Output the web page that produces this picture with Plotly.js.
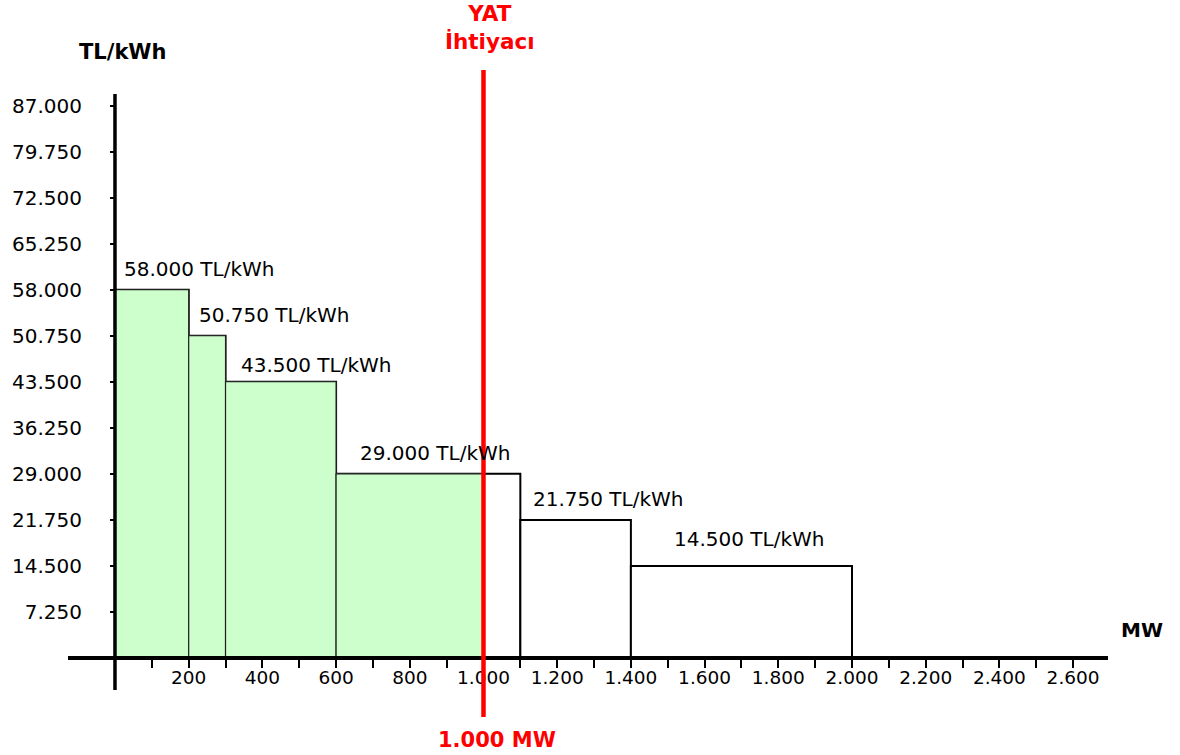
<!DOCTYPE html>
<html>
<head>
<meta charset="utf-8">
<script src="https://cdn.plot.ly/plotly-3.0.1.min.js"></script>
<style>
  html, body { margin: 0; padding: 0; background: #ffffff; }
  #chart { width: 1180px; height: 755px; }
</style>
</head>
<body>
<div id="chart"></div>
<script>
// Merit-order blocks: offered capacity (MW) and price (TL/kWh) of each block
const blockCapacityMW = [200, 100, 300, 500, 300, 600];
const blockPrice = [58000, 50750, 43500, 29000, 21750, 14500];
// Required reserve capacity
const demandMW = 1000;
// Axis ticks
const priceTicks = [7250, 14500, 21750, 29000, 36250, 43500, 50750, 58000, 65250, 72500, 79750, 87000];
const mwTicks = [200, 400, 600, 800, 1000, 1200, 1400, 1600, 1800, 2000, 2200, 2400, 2600];
const mwMinorTicks = [100, 300, 500, 700, 900, 1100, 1300, 1500, 1700, 1900, 2100, 2300, 2500];

// Label nudges (px) relative to the top-left corner of each block
const labelShiftX = [7, 8, 13, 22, 11, 41];
const labelShiftY = [21, 21, 17, 21, 21, 27];

const FONT = '"DejaVu Sans", Verdana, sans-serif';
const RED = '#ff0000';

// Thousands separator as '.'
function fmt(n) {
  return String(Math.round(n)).replace(/\B(?=(\d{3})+(?!\d))/g, '.');
}

// Cumulative block starts
const starts = [];
let acc = 0;
blockCapacityMW.forEach(w => { starts.push(acc); acc += w; });

// Whole offered blocks (outlined)
const offerX = starts.map((s, i) => s + blockCapacityMW[i] / 2);

// Accepted portion of each block, up to the demand
const accStart = [], accWidth = [], accPrice = [];
starts.forEach((s, i) => {
  const w = Math.max(0, Math.min(demandMW - s, blockCapacityMW[i]));
  if (w > 0) { accStart.push(s); accWidth.push(w); accPrice.push(blockPrice[i]); }
});
const accX = accStart.map((s, i) => s + accWidth[i] / 2);

const xRange = [-127.5, 2694.7];
const yRange = [-9291, 92598];

const traces = [
  {
    type: 'bar',
    x: offerX,
    y: blockPrice,
    width: blockCapacityMW,
    marker: { color: '#ffffff', line: { color: '#000000', width: 2 } },
    hoverinfo: 'skip',
    showlegend: false
  },
  {
    type: 'bar',
    x: accX,
    y: accPrice,
    width: accWidth,
    marker: { color: '#ccffcc', line: { color: '#222222', width: 1.2 } },
    hoverinfo: 'skip',
    showlegend: false
  }
];

const annotations = blockPrice.map((p, i) => ({
  x: starts[i], y: p, xref: 'x', yref: 'y',
  text: fmt(p) + ' TL/kWh',
  showarrow: false,
  xanchor: 'left', yanchor: 'middle',
  xshift: labelShiftX[i], yshift: labelShiftY[i],
  font: { family: FONT, size: 20, color: '#000000' }
}));

annotations.push(
  {
    x: demandMW, y: 1, xref: 'x', yref: 'paper',
    text: '<b>YAT</b><br><b>İhtiyacı</b>',
    showarrow: false, xanchor: 'center', yanchor: 'bottom',
    xshift: 7, yshift: 14,
    font: { family: FONT, size: 21.5, color: RED }
  },
  {
    x: demandMW, y: 0, xref: 'x', yref: 'paper',
    text: '<b>' + fmt(demandMW) + ' MW</b>',
    showarrow: false, xanchor: 'center', yanchor: 'top',
    xshift: 14, yshift: -9,
    font: { family: FONT, size: 21, color: RED }
  },
  {
    x: 0, y: 1, xref: 'x', yref: 'paper',
    text: '<b>TL/kWh</b>',
    showarrow: false, xanchor: 'center', yanchor: 'bottom',
    xshift: 8, yshift: 4,
    font: { family: FONT, size: 21, color: '#000000' }
  },
  {
    x: 1, y: 0, xref: 'paper', yref: 'y',
    text: '<b>MW</b>',
    showarrow: false, xanchor: 'left', yanchor: 'bottom',
    xshift: 11, yshift: 14,
    font: { family: FONT, size: 20, color: '#000000' }
  }
);

const shapes = [
  // horizontal axis line
  { type: 'line', xref: 'paper', yref: 'y', x0: 0, x1: 1, y0: 0, y1: 0,
    line: { color: '#000000', width: 4 }, layer: 'above' },
  // vertical axis line
  { type: 'line', xref: 'x', yref: 'y', x0: 0, x1: 0, y0: -5039, y1: 88819,
    line: { color: '#000000', width: 3.5 }, layer: 'above' },
  // required capacity marker
  { type: 'line', xref: 'x', yref: 'paper', x0: demandMW, x1: demandMW, y0: 0, y1: 1,
    line: { color: RED, width: 4.5 }, layer: 'above' }
];

const layout = {
  width: 1180,
  height: 755,
  margin: { l: 68, r: 72, t: 70, b: 38 },
  paper_bgcolor: '#ffffff',
  plot_bgcolor: '#ffffff',
  separators: ',.',
  barmode: 'overlay',
  bargap: 0,
  hovermode: false,
  showlegend: false,
  font: { family: FONT, color: '#000000' },
  xaxis: {
    range: xRange,
    anchor: 'free',
    position: (0 - yRange[0]) / (yRange[1] - yRange[0]),
    showgrid: false, zeroline: false, showline: false,
    tickmode: 'array',
    tickvals: mwTicks,
    tickformat: ',d',
    ticks: 'outside', ticklen: 9, tickwidth: 2, tickcolor: '#000000',
    ticklabelstandoff: -6,
    minor: {
      tickmode: 'array', tickvals: mwMinorTicks,
      ticks: 'outside', ticklen: 9, tickwidth: 2, tickcolor: '#000000', showgrid: false
    },
    tickfont: { family: FONT, size: 18.5, color: '#000000' },
    fixedrange: true
  },
  yaxis: {
    range: yRange,
    anchor: 'free',
    position: (0 - xRange[0]) / (xRange[1] - xRange[0]),
    showgrid: false, zeroline: false, showline: false,
    tickmode: 'array',
    tickvals: priceTicks,
    tickformat: ',d',
    ticks: 'outside', ticklen: 5, tickwidth: 2, tickcolor: '#000000',
    ticklabelstandoff: 24,
    tickfont: { family: FONT, size: 20, color: '#000000' },
    fixedrange: true
  },
  annotations: annotations,
  shapes: shapes
};

Plotly.newPlot('chart', traces, layout, { displayModeBar: false, staticPlot: true });
</script>
</body>
</html>
